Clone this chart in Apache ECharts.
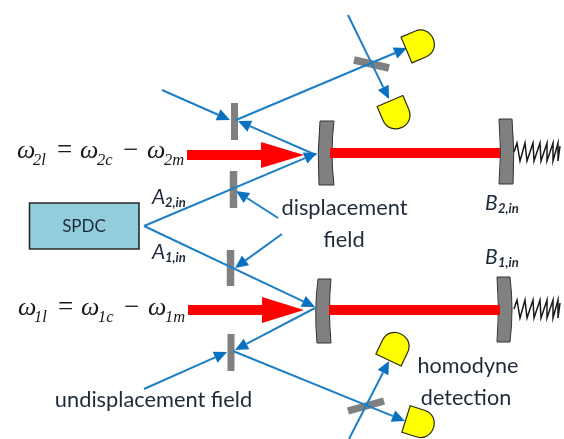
<!DOCTYPE html>
<html><head><meta charset="utf-8">
<style>html,body{margin:0;padding:0;background:#fff}#c{width:564px;height:439px}</style>
<script src="https://cdn.jsdelivr.net/npm/echarts@6/dist/echarts.min.js"></script>
</head><body><div id="c"></div>
<script>
// x1,y1,x2,y2 : beam from start to arrow tip
const blueArrows = [
  [162,90,230,120],[316,155,238,121],[236,120,407,48],[348,15,389,99],
  [144,226,317,153],[278,218,236,191],
  [144,226,315,307],[282,234,235,268],
  [315,308,235,350],[144,389,227,352],[233,351,405,421],[349,439,389,361]
];
// x1,y1,x2,y2,width
const splitters = [
  [234.5,103,234.5,140,7],[233.5,171,233.5,208,7.5],[230.5,250,230.5,286,7.5],[231,334,231,371,7],
  [354,60,389,68,7.5],[348,411,384,401,7.5]
];
// x1,y1,x2,y2,width
const redBeams = [[330,153,500,153,10],[329,310,500,310,10]];
// shaft start, shaft end / head base, tip, centre y
const pumpArrows = [[187,261,304,155],[188,262,304,310]];
// TL, TR, midR, BR, BL, midL
const mirrors = [
  [[320,121],[334,121],[330,153],[334,185],[319,185],[317,153]],
  [[499,119],[512,119],[515,152],[513,184],[499,184],[502,152]],
  [[318,279],[331,279],[328,309],[331,343],[317,343],[314,309]],
  [[497,277],[510,277],[514,309],[510,342],[497,342],[500,309]]
];
// flat-edge centre x,y ; dome direction x,y
const detectors = [[406.5,50,0.92,-0.39],[390,101,0.39,0.92],[388.5,360,0.43,-0.9],[406,419,0.95,0.3]];
const springOffsetX = [514,517,520,525,527,533,534,540,541,547,547,553,553,558,558,560];
const springOffsetY = [0,-9,9,-9,9,-9,9,-9,9,-9,9,-9,9,-9,9,-6];
const springRows = [152,309];
const spdcBox = [29.5,203,139,249];
const plainLabels = [
  ['SPDC',84,227,17],['displacement',344.5,208,21.8],['field',344,240,21.8],
  ['undisplacement field',153.5,400,21.8],['homodyne',468,366,21.6],['detection',466,398,21.6]
];
const subLabels = [['A','2,in',152,197],['A','1,in',152,252],['B','2,in',485,203],['B','1,in',485,257]];
const equations = [['2l','2c','2m',17,153],['1l','1c','1m',18,310]];

const ink = '#1f2a38', blue='#1d7fc6', head='#0a70c0', grey='#808080';
const chart = echarts.init(document.getElementById('c'), null, {renderer:'canvas'});
function layer(arr, fn){
  return {type:'custom', coordinateSystem:'cartesian2d', silent:true, clip:false, animation:false,
    data:arr.map((_,i)=>[i,i]), renderItem:(p,api)=>fn(arr[p.dataIndex],(x,y)=>api.coord([x,y]))};
}
const L=(a,b,w,c)=>({type:'line',shape:{x1:a[0],y1:a[1],x2:b[0],y2:b[1]},style:{stroke:c,lineWidth:w,fill:null}});
const option = {
  animation:false,
  grid:{left:0,right:0,top:0,bottom:0,containLabel:false},
  xAxis:{type:'value',min:0,max:564,show:false},
  yAxis:{type:'value',min:0,max:439,inverse:true,show:false},
  series:[
    layer(mirrors,(m,c)=>{
      const q=m.map(a=>c(a[0],a[1]));
      const d=`M${q[0]}L${q[1]}Q${q[2]} ${q[3]}L${q[4]}Q${q[5]} ${q[0]}Z`.replace(/,/g,' ');
      return {type:'path',shape:{pathData:d},style:{fill:grey,stroke:'#333',lineWidth:1}};
    }),
    layer(redBeams,(b,c)=>L(c(b[0],b[1]),c(b[2],b[3]),b[4],'#ff0000')),
    layer(pumpArrows,(a,c)=>{
      const s=c(a[0],a[3]-5),e=c(a[1],a[3]+5),h1=c(a[1],a[3]-13),h2=c(a[1],a[3]+13),t=c(a[2],a[3]);
      return {type:'group',children:[
        {type:'rect',shape:{x:s[0],y:s[1],width:e[0]-s[0],height:e[1]-s[1]},style:{fill:'#ff0000'}},
        {type:'polygon',shape:{points:[h1,h2,t]},style:{fill:'#ff0000'}}]};
    }),
    layer(splitters,(b,c)=>L(c(b[0],b[1]),c(b[2],b[3]),b[4],grey)),
    layer(blueArrows,(a,c)=>{
      const s=c(a[0],a[1]),t=c(a[2],a[3]);
      const dx=t[0]-s[0],dy=t[1]-s[1],n=Math.hypot(dx,dy),ux=dx/n,uy=dy/n,l=13,w=6;
      const b=[t[0]-ux*l,t[1]-uy*l];
      return {type:'group',children:[
        L(s,b,2,blue),
        {type:'polygon',shape:{points:[t,[b[0]-uy*w,b[1]+ux*w],[b[0]+uy*w,b[1]-ux*w]]},style:{fill:head}}]};
    }),
    layer(detectors,(D,c)=>{
      const F=c(D[0],D[1]),dx=D[2],dy=D[3],nx=-dy,ny=dx,w=14,s=15;
      const A=[F[0]+nx*w,F[1]+ny*w],B=[F[0]-nx*w,F[1]-ny*w];
      const A2=[A[0]+dx*s,A[1]+dy*s],B2=[B[0]+dx*s,B[1]+dy*s];
      const A3=[A2[0]+dx*w*1.33,A2[1]+dy*w*1.33],B3=[B2[0]+dx*w*1.33,B2[1]+dy*w*1.33];
      const d=`M${A}L${A2}C${A3} ${B3} ${B2}L${B}Z`.replace(/,/g,' ');
      return {type:'path',shape:{pathData:d},style:{fill:'#ffff00',stroke:'#2a2a10',lineWidth:1.2}};
    }),
    layer(springRows,(y,c)=>({type:'polyline',shape:{points:springOffsetX.map((x,i)=>c(x,y+springOffsetY[i]))},
      style:{fill:null,stroke:'#1a1a1a',lineWidth:1.5}})),
    layer([spdcBox],(b,c)=>{const p=c(b[0],b[1]),q=c(b[2],b[3]);
      return {type:'rect',shape:{x:p[0],y:p[1],width:q[0]-p[0],height:q[1]-p[1]},style:{fill:'#92cddc',stroke:'#2a2a2a',lineWidth:1.6}};}),
    layer(plainLabels,(t,c)=>{const p=c(t[1],t[2]);
      return {type:'text',x:p[0],y:p[1],style:{text:t[0],fontFamily:'Lato',fontSize:t[3],fill:ink,textAlign:'center',textVerticalAlign:'middle'}};}),
    layer(subLabels,(t,c)=>{const p=c(t[2],t[3]);
      return {type:'group',children:[
        {type:'text',x:p[0],y:p[1],style:{text:t[0],fontFamily:'Lato',fontStyle:'italic',fontSize:21,fill:ink,textAlign:'left',textVerticalAlign:'middle'}},
        {type:'text',x:p[0]+13,y:p[1]+6,style:{text:t[1],fontFamily:'Lato',fontStyle:'italic',fontWeight:'bold',fontSize:13,fill:ink,textAlign:'left',textVerticalAlign:'middle'}}]};}),
    layer(equations,(e,c)=>{
      const p=c(e[3],e[4]);const f='Liberation Serif';
      const big={fontFamily:f,fontStyle:'italic',fontSize:26,fill:'#1a1a1a'},
            sym={fontFamily:f,fontSize:27,fill:'#1a1a1a'},
            sub={fontFamily:f,fontStyle:'italic',fontSize:16.5,fill:'#1a1a1a'};
      const T=(s,dx,dy,st)=>({type:'text',x:p[0]+dx,y:p[1]+dy,style:Object.assign({text:s,textAlign:'left',textVerticalAlign:'middle'},st)});
      return {type:'group',children:[
        T('ω',0,-2,big),T(e[0],16,8,sub),T('=',40,-2,sym),
        T('ω',63,-2,big),T(e[1],80,8,sub),T('−',106,-2,sym),
        T('ω',130,-2,big),T(e[2],147,8,sub)]};
    })
  ]
};
chart.setOption(option);
</script></body></html>
